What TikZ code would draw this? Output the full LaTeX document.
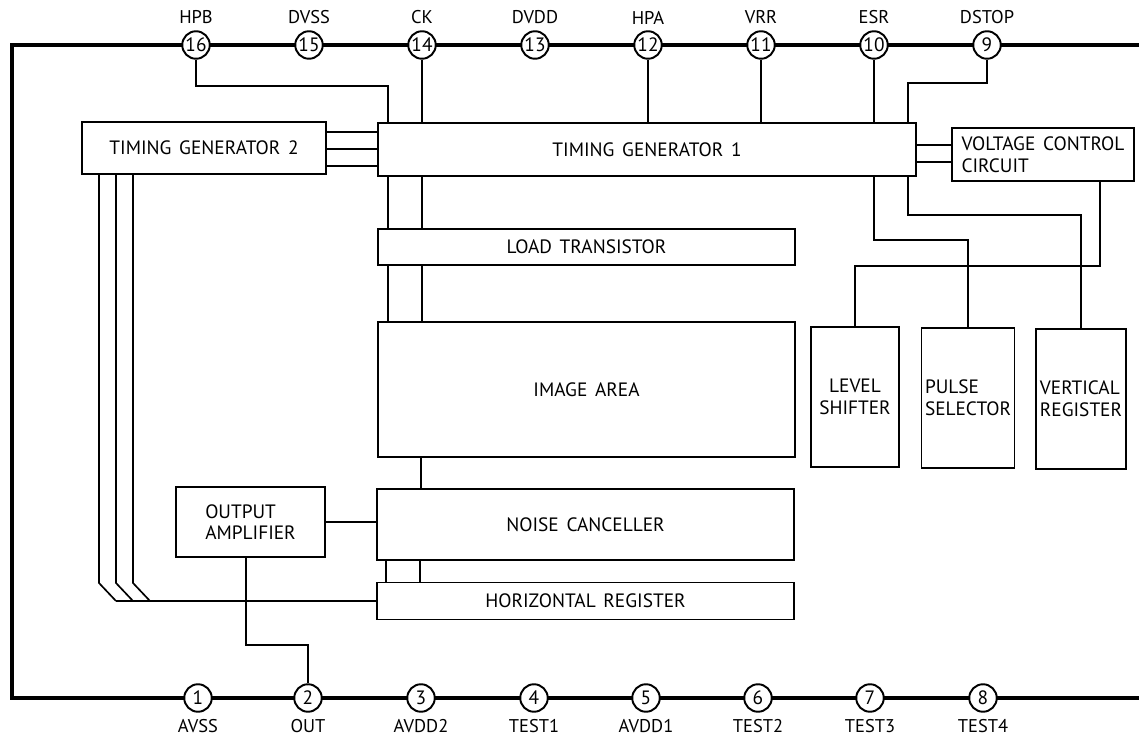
\documentclass[tikz,border=0pt]{standalone}
\usepackage{fontspec}
\setmainfont{PT Sans}[WordSpace=1.5]
\usetikzlibrary{positioning}

\tikzset{
  block/.style={draw,line width=1.1pt,inner sep=2pt,font=\fontsize{11}{12.3}\selectfont,align=center},
  tallblock/.style={block,minimum width=1.76cm,minimum height=2.8cm},
  wire/.style={line width=0.95pt},
  chip/.style={line width=2.6pt},
  pinnode/.style={draw,circle,line width=1.1pt,fill=white,inner sep=0pt,minimum size=0.55cm,
    font=\fontsize{11}{12}\selectfont,label distance=2.5pt},
  pinlabel/.style={font=\fontsize{10.5}{12}\selectfont},
}

\begin{document}
\begin{tikzpicture}[x=0.02cm,y=-0.02cm]
  \useasboundingbox (0,0) rectangle (1139,742);
  \draw[chip] (1139,45) -- (12,45) -- (12,698) -- (1139,698);

  \foreach \n/\x/\lbl in {16/196/HPB,15/309/DVSS,14/422/CK,13/535/DVDD,12/648/HPA,11/761/VRR,10/874/ESR,9/987/DSTOP}
    \node[pinnode,label={[pinlabel]above:\lbl}] (p\n) at (\x,45) {\n};
  \foreach \n/\x/\lbl in {1/198/AVSS,2/308/OUT,3/421/AVDD2,4/534/TEST1,5/646/AVDD1,6/758/TEST2,7/870/TEST3,8/983/TEST4}
    \node[pinnode,label={[pinlabel]below:\lbl}] (p\n) at (\x,698) {\n};

  \node[block,minimum width=4.88cm,minimum height=1.04cm] (tg2) at (204,148) {TIMING GENERATOR 2};
  \node[block,minimum width=10.76cm,minimum height=1.06cm] (tg1) at (647,149.5) {TIMING GENERATOR 1};
  \node[block,align=left,minimum width=3.64cm,minimum height=1.06cm] (vcc) at (1043,154.5) {VOLTAGE CONTROL\\CIRCUIT};
  \node[block,minimum width=8.34cm,minimum height=0.72cm] (lt) at (586.5,247) {LOAD TRANSISTOR};
  \node[block,minimum width=8.34cm,minimum height=2.7cm] (ia) at (586.5,389.5) {IMAGE AREA};
  \node[block,minimum width=8.34cm,minimum height=1.42cm] (nc) at (585.5,524.5) {NOISE CANCELLER};
  \node[block,minimum width=8.34cm,minimum height=0.74cm] (hr) at (585.5,601) {HORIZONTAL REGISTER};
  \node[block,align=left,minimum width=2.98cm,minimum height=1.4cm] (oa) at (250.5,522) {OUTPUT\\AMPLIFIER};
  \node[tallblock] (ls) at (855,397) {LEVEL\\SHIFTER};
  \node[tallblock,align=left] (ps) at (968,398) {PULSE\\SELECTOR};
  \node[tallblock,align=left] (vr) at (1081,399) {VERTICAL\\REGISTER};

  \draw[wire] (p16.south) |- (388,86) -- (388,0 |- tg1.north);
  \foreach \n in {14,12,11,10}
    \draw[wire] (p\n.south) -- (p\n.south |- tg1.north);
  \draw[wire] (p9.south) |- (908,83) -- (908,0 |- tg1.north);
  \foreach \y in {132,149,166}
    \draw[wire] (tg2.east |- 0,\y) -- (tg1.west |- 0,\y);
  \foreach \y in {145,162}
    \draw[wire] (tg1.east |- 0,\y) -- (vcc.west |- 0,\y);
  \draw[wire] (874,0 |- tg1.south) |- (ps.north |- 0,240) -- (ps.north);
  \draw[wire] (908,0 |- tg1.south) |- (vr.north |- 0,215) -- (vr.north);
  \draw[wire] (1100,0 |- vcc.south) |- (ls.north |- 0,266) -- (ls.north);
  \foreach \x in {388,422} {
    \draw[wire] (\x,0 |- tg1.south) -- (\x,0 |- lt.north);
    \draw[wire] (\x,0 |- lt.south) -- (\x,0 |- ia.north);
  }
  \draw[wire] (421,0 |- ia.south) -- (421,0 |- nc.north);
  \foreach \x in {386,420}
    \draw[wire] (\x,0 |- nc.south) -- (\x,0 |- hr.north);
  \draw[wire] (oa.east) -- (oa.east -| nc.west);
  \draw[wire] (246,0 |- oa.south) |- (p2.north |- 0,645) -- (p2.north);
  \foreach \x in {99,116,133}
    \draw[wire] (\x,0 |- tg2.south) -- (\x,583) -- ++(17,18);
  \draw[wire] (116,601) -- (hr.west);
\end{tikzpicture}
\end{document}
